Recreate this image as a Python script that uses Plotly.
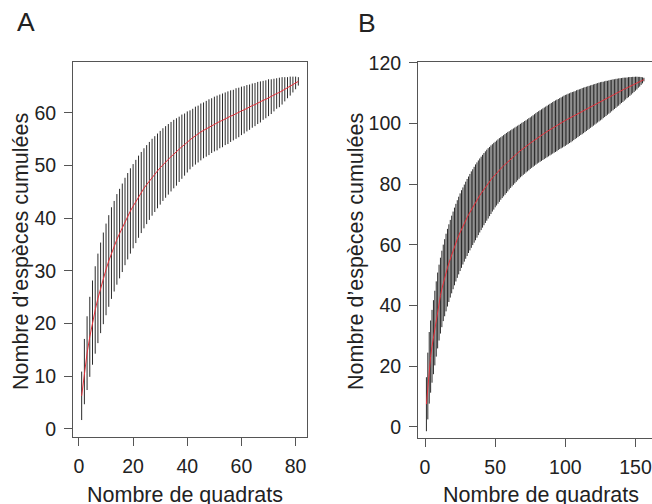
import plotly.graph_objects as go

# ---------------- data ----------------
quadrats_a = list(range(1, 82))
mean_a = [6.3, 10.9, 14.4, 17.5, 20.2, 22.6, 24.8, 26.8, 28.6, 30.3,
          31.9, 33.4, 34.7, 36.0, 37.1, 38.2, 39.4, 40.4, 41.4, 42.3,
          43.2, 44.1, 44.9, 45.7, 46.4, 47.1, 47.8, 48.4, 49.0, 49.6,
          50.2, 50.7, 51.2, 51.7, 52.2, 52.6, 53.1, 53.6, 54.0, 54.5,
          54.9, 55.3, 55.7, 56.0, 56.4, 56.7, 57.0, 57.3, 57.6, 57.9,
          58.1, 58.4, 58.6, 58.9, 59.1, 59.4, 59.6, 59.9, 60.1, 60.4,
          60.6, 60.9, 61.1, 61.4, 61.6, 61.9, 62.1, 62.4, 62.6, 62.9,
          63.1, 63.4, 63.7, 63.9, 64.2, 64.5, 64.8, 65.1, 65.4, 65.7, 66.0]
half_a = [4.6, 6.2, 7.0, 7.6, 8.0, 8.3, 8.5, 8.6, 8.7, 8.7,
          8.7, 8.7, 8.6, 8.6, 8.5, 8.4, 8.3, 8.2, 8.1, 8.0,
          7.9, 7.8, 7.7, 7.6, 7.5, 7.4, 7.3, 7.2, 7.1, 7.0,
          6.9, 6.8, 6.7, 6.6, 6.5, 6.4, 6.2, 6.1, 5.9, 5.8,
          5.6, 5.5, 5.5, 5.4, 5.4, 5.3, 5.3, 5.3, 5.2, 5.2,
          5.2, 5.1, 5.1, 5.0, 5.0, 4.9, 4.8, 4.8, 4.7, 4.6,
          4.5, 4.4, 4.3, 4.2, 4.1, 4.0, 3.9, 3.7, 3.6, 3.5,
          3.3, 3.1, 2.9, 2.8, 2.6, 2.3, 2.0, 1.8, 1.5, 1.2, 0.8]

quadrats_b = list(range(1, 157))
mean_b = [7.5, 13.5, 19.5, 23.2, 26.6, 29.6, 32.6, 35.6, 38.4, 41.0,
          43.3, 45.5, 47.5, 49.2, 50.9, 52.5, 54.0, 55.45, 56.85, 58.2,
          59.5, 60.75, 61.95, 63.1, 64.2, 65.25, 66.25, 67.2, 68.15, 69.05,
          69.95, 70.8, 71.65, 72.45, 73.25, 74.05, 74.8, 75.55, 76.3, 77.0,
          77.7, 78.4, 79.05, 79.7, 80.3, 80.9, 81.5, 82.1, 82.65, 83.2,
          83.7, 84.2, 84.7, 85.2, 85.65, 86.1, 86.55, 87.0, 87.45, 87.9,
          88.3, 88.7, 89.1, 89.5, 89.9, 90.3, 90.7, 91.1, 91.45, 91.8,
          92.15, 92.5, 92.85, 93.2, 93.55, 93.9, 94.25, 94.6, 94.95, 95.3,
          95.6, 95.9, 96.2, 96.5, 96.8, 97.1, 97.4, 97.7, 98.0, 98.3,
          98.6, 98.9, 99.15, 99.4, 99.7, 100.0, 100.25, 100.5, 100.8, 101.05,
          101.3, 101.55, 101.8, 102.05, 102.3, 102.55, 102.8, 103.1, 103.35, 103.6,
          103.85, 104.1, 104.35, 104.6, 104.85, 105.1, 105.35, 105.6, 105.85, 106.1,
          106.35, 106.6, 106.85, 107.1, 107.35, 107.55, 107.8, 108.05, 108.3, 108.5,
          108.75, 109.0, 109.25, 109.5, 109.7, 109.95, 110.2, 110.4, 110.65, 110.9,
          111.1, 111.35, 111.55, 111.8, 112.0, 112.25, 112.45, 112.7, 112.9, 113.15,
          113.35, 113.6, 113.8, 114.05, 114.25, 114.5]
half_b = [8.9, 11.0, 11.8, 11.9, 12.0, 12.2, 12.3, 12.4, 12.5, 12.5,
          12.5, 12.6, 12.6, 12.7, 12.8, 12.8, 12.8, 12.8, 12.8, 12.8,
          12.8, 12.8, 12.8, 12.8, 12.8, 12.8, 12.7, 12.7, 12.7, 12.7,
          12.6, 12.6, 12.6, 12.5, 12.5, 12.5, 12.4, 12.3, 12.2, 12.1,
          12.0, 11.9, 11.8, 11.7, 11.6, 11.4, 11.3, 11.1, 11.0, 10.8,
          10.7, 10.6, 10.5, 10.3, 10.2, 10.1, 10.0, 9.9, 9.8, 9.6,
          9.5, 9.4, 9.3, 9.2, 9.1, 9.0, 8.9, 8.8, 8.8, 8.7,
          8.7, 8.6, 8.6, 8.6, 8.5, 8.5, 8.5, 8.5, 8.5, 8.5,
          8.5, 8.5, 8.5, 8.5, 8.5, 8.5, 8.5, 8.5, 8.5, 8.5,
          8.5, 8.5, 8.5, 8.5, 8.4, 8.4, 8.4, 8.4, 8.4, 8.4,
          8.3, 8.3, 8.2, 8.2, 8.1, 8.0, 7.9, 7.9, 7.8, 7.7,
          7.6, 7.6, 7.5, 7.4, 7.3, 7.2, 7.1, 7.0, 6.9, 6.8,
          6.7, 6.6, 6.5, 6.4, 6.3, 6.2, 6.0, 5.9, 5.8, 5.6,
          5.5, 5.4, 5.2, 5.1, 4.9, 4.8, 4.6, 4.5, 4.3, 4.1,
          4.0, 3.8, 3.6, 3.4, 3.3, 3.1, 2.9, 2.7, 2.5, 2.3,
          2.1, 1.8, 1.6, 1.3, 1.0, 0.6]

ticks_xa = [0, 20, 40, 60, 80]
ticks_ya = [0, 10, 20, 30, 40, 50, 60]
ticks_xb = [0, 50, 100, 150]
ticks_yb = [0, 20, 40, 60, 80, 100, 120]

x_title = "Nombre de quadrats"
y_title = "Nombre d\u2019esp\u00e8ces cumul\u00e9es"

# ---------------- figure ----------------
W, H = 652, 504

def px(x):
    return x / W

def py(y):
    return 1 - y / H

FONT = "Liberation Sans, Arial, Helvetica, sans-serif"
BAR_COL = "#2b2b2b"
RED = "#e8303a"
AX_COL = "#555555"
TXT = "#222222"

fig = go.Figure()
for xs, m, h, xa, ya in [(quadrats_a, mean_a, half_a, "x", "y"),
                         (quadrats_b, mean_b, half_b, "x2", "y2")]:
    fig.add_trace(go.Scatter(
        x=xs, y=m, mode="markers", xaxis=xa, yaxis=ya,
        marker=dict(size=1, color="rgba(0,0,0,0)"),
        error_y=dict(type="data", array=h, symmetric=True,
                     thickness=1, width=0, color=BAR_COL),
        showlegend=False, hoverinfo="skip"))
    fig.add_trace(go.Scatter(
        x=xs, y=m, mode="lines", xaxis=xa, yaxis=ya,
        line=dict(color=RED, width=1),
        showlegend=False, hoverinfo="skip"))

axis_common = dict(showline=True, mirror=True, linecolor=AX_COL, linewidth=1,
                   ticks="outside", ticklen=8, tickwidth=1, tickcolor=AX_COL,
                   showgrid=False, zeroline=False, automargin=False,
                   tickfont=dict(family=FONT, size=19.5, color=TXT),
                   ticklabelstandoff=4)

fig.update_layout(
    width=W, height=H,
    margin=dict(l=0, r=0, t=0, b=0, autoexpand=False),
    paper_bgcolor="white", plot_bgcolor="white",
    xaxis=dict(domain=[px(73), px(307)], range=[-2.2, 84.2],
               tickvals=ticks_xa, anchor="y", **axis_common),
    yaxis=dict(domain=[py(437), py(62)], range=[-1.52, 69.68],
               tickvals=ticks_ya, anchor="x", **axis_common),
    xaxis2=dict(domain=[px(418), px(651.5)], range=[-5.0, 161.4],
                tickvals=ticks_xb, anchor="y2", **axis_common),
    yaxis2=dict(domain=[py(438), py(62)], range=[-3.63, 120.3],
                tickvals=ticks_yb, anchor="x2", **axis_common),
)

ann = []
ann.append(dict(text="A", x=px(26), y=py(22), font=dict(family=FONT, size=26.5, color=TXT)))
ann.append(dict(text="B", x=px(367), y=py(23), font=dict(family=FONT, size=26.5, color=TXT)))
ann.append(dict(text=x_title, x=px(185), y=py(495), font=dict(family=FONT, size=21.5, color=TXT)))
ann.append(dict(text=x_title, x=px(541), y=py(495), font=dict(family=FONT, size=21.5, color=TXT)))
ann.append(dict(text=y_title, x=px(21), y=py(252), textangle=-90, font=dict(family=FONT, size=21.5, color=TXT)))
ann.append(dict(text=y_title, x=px(356), y=py(252), textangle=-90, font=dict(family=FONT, size=21.5, color=TXT)))
for a in ann:
    a.update(xref="paper", yref="paper", showarrow=False,
             xanchor="center", yanchor="middle")
fig.update_layout(annotations=ann)

page_fix = ("document.body.style.margin='0';"
            "document.body.style.padding='0';"
            "document.body.style.overflow='hidden';"
            "document.documentElement.style.overflow='hidden';")
fig.write_html("out.html", post_script=page_fix,
               config={"displayModeBar": False, "staticPlot": True})
